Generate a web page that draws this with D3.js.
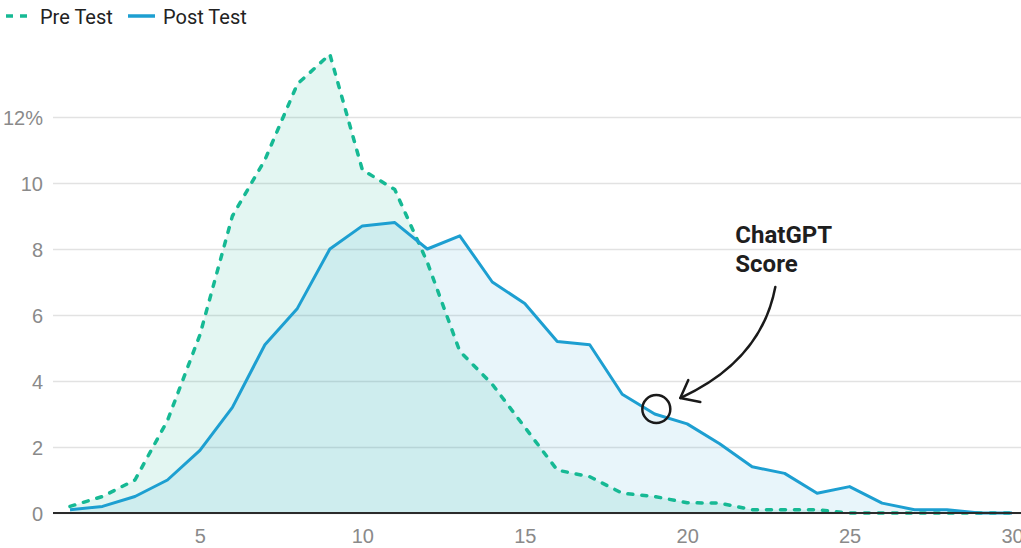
<!DOCTYPE html>
<html>
<head>
<meta charset="utf-8">
<script src="https://cdn.jsdelivr.net/npm/d3@7"></script>
<style>
  body { margin: 0; background: #fff; }
  svg { display: block; font-family: Roboto, sans-serif; }
</style>
</head>
<body>
<div id="chart"></div>
<script>
// scores 1..30, share of students (%)
const scores = d3.range(1, 31);
const preTest = [0.2, 0.5, 1.0, 2.8, 5.4, 9.0, 10.7, 13.0, 13.9, 10.4,
                 9.8, 7.6, 4.9, 3.9, 2.6, 1.3, 1.1, 0.6, 0.5, 0.31,
                 0.3, 0.1, 0.1, 0.1, 0.0, 0.0, 0.0, 0.0, 0.0, 0.0];
const postTest = [0.1, 0.2, 0.5, 1.0, 1.9, 3.2, 5.1, 6.2, 8.0, 8.7,
                  8.8, 8.0, 8.4, 7.0, 6.35, 5.2, 5.1, 3.6, 3.0, 2.7,
                  2.1, 1.4, 1.2, 0.6, 0.8, 0.3, 0.1, 0.1, 0.0, 0.0];
const xTicks = [5, 10, 15, 20, 25, 30];
const yTicks = [0, 2, 4, 6, 8, 10, 12];
const seriesNames = ['Pre Test', 'Post Test'];
const note = { x: 19.05, y: 3.15, lines: ['ChatGPT', 'Score'] };

const W = 1021, H = 548;
const preColor = '#16b994', postColor = '#1d9fd1';

const svg = d3.select('#chart').append('svg')
    .attr('width', W)
    .attr('height', H);

const x = d3.scaleLinear().domain([1, 30]).range([70, 1012]);
const y = d3.scaleLinear().domain([0, 12]).range([513, 117]);

const pre = scores.map((s, i) => ({ s: s, v: preTest[i] }));
const post = scores.map((s, i) => ({ s: s, v: postTest[i] }));

// gridlines + y labels
const yAxis = svg.append('g')
    .attr('transform', 'translate(53,0)')
    .call(d3.axisLeft(y).tickValues(yTicks).tickSize(-(W - 53)).tickPadding(10)
        .tickFormat(d => d === 12 ? '12%' : d));
yAxis.select('.domain').remove();
yAxis.selectAll('.tick line').attr('stroke', '#e2e2e2').attr('stroke-width', 1.5);
yAxis.selectAll('.tick text')
    .attr('fill', '#8a8a8a')
    .style('font-size', '20px')
    .attr('dy', '0.36em');

const area = d3.area()
    .x(d => x(d.s))
    .y0(y(0))
    .y1(d => y(d.v));
const line = d3.line()
    .x(d => x(d.s))
    .y(d => y(d.v));

svg.append('path').datum(pre)
    .attr('d', area)
    .attr('fill', preColor)
    .attr('fill-opacity', 0.12);
svg.append('path').datum(post)
    .attr('d', area)
    .attr('fill', postColor)
    .attr('fill-opacity', 0.1);

svg.append('path').datum(pre)
    .attr('d', line)
    .attr('fill', 'none')
    .attr('stroke', preColor)
    .attr('stroke-width', 3.5)
    .attr('stroke-dasharray', '5,9')
    .attr('stroke-linecap', 'round')
    .attr('stroke-linejoin', 'round');
svg.append('path').datum(post)
    .attr('d', line)
    .attr('fill', 'none')
    .attr('stroke', postColor)
    .attr('stroke-width', 3)
    .attr('stroke-linejoin', 'round');

// x axis
const xAxis = svg.append('g')
    .attr('transform', 'translate(0,' + y(0) + ')')
    .call(d3.axisBottom(x).tickValues(xTicks).tickSize(0).tickPadding(16));
xAxis.select('.domain').remove();
xAxis.selectAll('.tick text')
    .attr('fill', '#8a8a8a')
    .style('font-size', '20px');
svg.append('line')
    .attr('x1', 53).attr('x2', W)
    .attr('y1', y(0)).attr('y2', y(0))
    .attr('stroke', '#2b2b2b')
    .attr('stroke-width', 2);

// annotation
const cx = x(note.x), cy = y(note.y);
svg.append('circle')
    .attr('cx', cx).attr('cy', cy).attr('r', 14)
    .attr('fill', 'none')
    .attr('stroke', '#1a1a1a')
    .attr('stroke-width', 2.5);
svg.append('path')
    .attr('d', 'M' + (cx + 119) + ',' + (cy - 122) +
        ' C' + (cx + 109) + ',' + (cy - 69) + ' ' + (cx + 74) + ',' + (cy - 34) + ' ' + (cx + 24) + ',' + (cy - 11))
    .attr('fill', 'none')
    .attr('stroke', '#1a1a1a')
    .attr('stroke-width', 2.5)
    .attr('stroke-linecap', 'round');
svg.append('path')
    .attr('d', 'M' + (cx + 32) + ',' + (cy - 29) + ' L' + (cx + 24) + ',' + (cy - 11) + ' L' + (cx + 44) + ',' + (cy - 7))
    .attr('fill', 'none')
    .attr('stroke', '#1a1a1a')
    .attr('stroke-width', 2.5)
    .attr('stroke-linecap', 'round')
    .attr('stroke-linejoin', 'round');
svg.append('text')
    .attr('x', cx + 79).attr('y', cy - 166)
    .attr('fill', '#1e1e1e')
    .style('font-size', '24px')
    .style('font-weight', 'bold')
    .selectAll('tspan')
    .data(note.lines)
    .enter().append('tspan')
    .attr('x', cx + 79)
    .attr('dy', (d, i) => i === 0 ? 0 : 29)
    .text(d => d);

// legend
const legend = svg.append('g');
legend.append('line')
    .attr('x1', 6).attr('x2', 28).attr('y1', 16).attr('y2', 16)
    .attr('stroke', preColor).attr('stroke-width', 3.5)
    .attr('stroke-dasharray', '7,7');
legend.append('text')
    .attr('x', 40).attr('y', 24)
    .attr('fill', '#222')
    .style('font-size', '20px')
    .text(seriesNames[0]);
legend.append('line')
    .attr('x1', 128).attr('x2', 155).attr('y1', 16).attr('y2', 16)
    .attr('stroke', postColor).attr('stroke-width', 3.5);
legend.append('text')
    .attr('x', 163).attr('y', 24)
    .attr('fill', '#222')
    .style('font-size', '20px')
    .text(seriesNames[1]);
</script>
</body>
</html>
